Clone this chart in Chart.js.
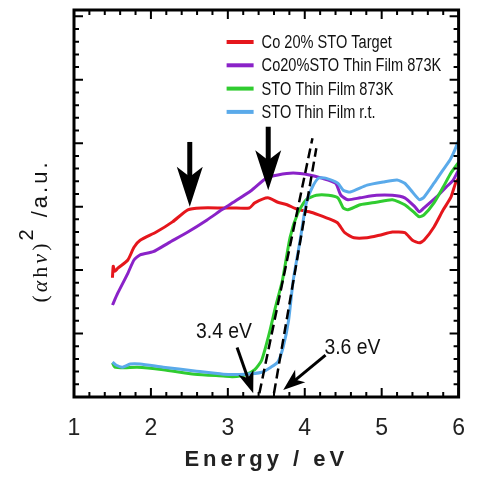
<!DOCTYPE html>
<html>
<head>
<meta charset="utf-8">
<script src="https://cdn.jsdelivr.net/npm/chart.js@4.4.1/dist/chart.umd.min.js"></script>
<style>
  html, body { margin: 0; padding: 0; background: #fff; }
</style>
</head>
<body>
<canvas id="gap-chart" width="483" height="479"></canvas>
<script>
// series (energy in eV, intensity in arbitrary units)
const seriesNames = ['Co 20% STO Target', 'Co20%STO Thin Film 873K', 'STO Thin Film 873K', 'STO Thin Film r.t.'];

const targetE = [1.5, 1.51, 1.53, 1.57, 1.70, 1.78, 1.86, 2.07, 2.28, 2.48, 2.65, 2.94, 3.06, 3.28, 3.35, 3.52, 3.65, 3.77, 3.90, 4.06, 4.18, 4.35, 4.43, 4.52, 4.64, 4.81, 4.97, 5.14, 5.30, 5.40, 5.49, 5.55, 5.68, 5.80, 5.90, 5.96, 6.0];
const targetY = [1.88, 2.06, 1.98, 2.03, 2.16, 2.36, 2.47, 2.60, 2.76, 2.95, 2.98, 2.98, 2.98, 2.98, 3.06, 3.14, 3.07, 3.03, 2.96, 2.92, 2.87, 2.79, 2.74, 2.59, 2.51, 2.51, 2.55, 2.60, 2.59, 2.47, 2.43, 2.47, 2.68, 2.95, 3.15, 3.37, 3.45];

const filmE = [1.5, 1.57, 1.70, 1.78, 1.86, 2.03, 2.23, 2.48, 2.73, 2.92, 3.06, 3.31, 3.50, 3.65, 3.85, 4.06, 4.22, 4.40, 4.47, 4.56, 4.72, 4.93, 5.14, 5.30, 5.43, 5.49, 5.55, 5.71, 5.84, 5.93, 6.0];
const filmY = [1.45, 1.64, 1.95, 2.16, 2.24, 2.29, 2.43, 2.60, 2.79, 2.95, 3.06, 3.26, 3.45, 3.50, 3.53, 3.50, 3.45, 3.37, 3.18, 3.11, 3.14, 3.18, 3.18, 3.14, 3.00, 2.92, 2.98, 3.15, 3.31, 3.42, 3.58];

const stoHotE = [1.5, 1.53, 1.66, 1.82, 2.16, 2.57, 2.94, 3.06, 3.23, 3.35, 3.44, 3.54, 3.62, 3.71, 3.81, 3.91, 4.02, 4.15, 4.31, 4.43, 4.50, 4.56, 4.72, 4.93, 5.14, 5.30, 5.43, 5.49, 5.55, 5.68, 5.80, 5.90, 6.0];
const stoHotY = [0.54, 0.47, 0.46, 0.47, 0.43, 0.36, 0.33, 0.32, 0.35, 0.43, 0.58, 1.01, 1.42, 1.84, 2.52, 2.90, 3.11, 3.18, 3.18, 3.14, 2.98, 2.95, 3.03, 3.07, 3.11, 3.03, 2.90, 2.84, 2.87, 3.06, 3.31, 3.53, 3.70];

const stoRtE = [1.5, 1.55, 1.63, 1.73, 1.86, 2.16, 2.57, 2.94, 3.23, 3.44, 3.56, 3.65, 3.72, 3.79, 3.85, 3.94, 4.02, 4.10, 4.18, 4.27, 4.43, 4.50, 4.59, 4.81, 5.02, 5.20, 5.30, 5.40, 5.49, 5.55, 5.68, 5.78, 5.89, 5.95, 6.0];
const stoRtY = [0.55, 0.50, 0.47, 0.52, 0.52, 0.47, 0.41, 0.36, 0.36, 0.39, 0.47, 0.55, 0.79, 1.21, 1.84, 2.47, 3.06, 3.31, 3.45, 3.45, 3.37, 3.26, 3.23, 3.34, 3.39, 3.42, 3.37, 3.23, 3.11, 3.15, 3.37, 3.55, 3.74, 3.89, 4.05];

// linear fits for the band gap
const fit34E = [3.41, 4.10];
const fit34Y = [0.06, 4.08];
const fit36E = [3.60, 4.15];
const fit36Y = [0.06, 3.92];

const xTickLabels = ['1', '2', '3', '4', '5', '6'];

// annotations: [x, yTop, yTip] for the peak arrows, [label, textX, textY, fromX, fromY, toX, toY] for gaps
const peakArrows = [[2.505, 4.02, 3.0], [3.525, 4.26, 3.26]];
const gapNotes = [
    ['3.4 eV', 2.95, 1.03, 3.12, 0.78, 3.33, 0.06],
    ['3.6 eV', 4.62, 0.77, 4.27, 0.66, 3.72, 0.11]
];

const seriesColors = ['#e5161c', '#8a22c8', '#30cc30', '#5aaaea'];

const toPoints = (xs, ys) => xs.map((x, i) => ({ x: x, y: ys[i] }));

Chart.defaults.font.family = "'Liberation Sans', Arial, sans-serif";

// condensed text like the original figure
function narrowText(ctx, text, x, y, squeeze) {
    ctx.save();
    ctx.translate(x, y);
    ctx.scale(squeeze, 1);
    ctx.fillText(text, 0, 0);
    ctx.restore();
}

const extras = {
    id: 'extras',
    beforeDraw(chart) {
        chart.ctx.letterSpacing = '4px';
    },
    beforeDatasetsDraw(chart) {
        chart.ctx.letterSpacing = '0px';
    },
    afterDatasetsDraw(chart) {
        const ctx = chart.ctx;
        const area = chart.chartArea;
        const xs = chart.scales.x;
        const ys = chart.scales.y;

        ctx.save();
        ctx.strokeStyle = '#000';
        ctx.fillStyle = '#000';

        // frame
        ctx.lineWidth = 3;
        ctx.strokeRect(area.left, area.top, area.right - area.left, area.bottom - area.top);

        // inward ticks, all four sides
        ctx.lineWidth = 2;
        ctx.beginPath();
        for (let i = 0; i <= 25; i++) {
            const px = xs.getPixelForValue(1 + i * 0.2);
            const len = i % 5 === 0 ? 9 : 5;
            ctx.moveTo(px, area.bottom);
            ctx.lineTo(px, area.bottom - len);
            ctx.moveTo(px, area.top);
            ctx.lineTo(px, area.top + len);
        }
        for (let i = 0; i <= 30; i++) {
            const py = ys.getPixelForValue(i * 0.2);
            const len = i % 5 === 0 ? 9 : 5;
            ctx.moveTo(area.left, py);
            ctx.lineTo(area.left + len, py);
            ctx.moveTo(area.right, py);
            ctx.lineTo(area.right - len, py);
        }
        ctx.stroke();

        // big arrows over the peaks
        peakArrows.forEach(a => {
            const px = xs.getPixelForValue(a[0]);
            const top = ys.getPixelForValue(a[1]);
            const tip = ys.getPixelForValue(a[2]);
            ctx.lineWidth = 5;
            ctx.beginPath();
            ctx.moveTo(px, top);
            ctx.lineTo(px, tip - 20);
            ctx.stroke();
            ctx.beginPath();
            ctx.moveTo(px, tip);
            ctx.lineTo(px - 13, tip - 40);
            ctx.lineTo(px, tip - 30);
            ctx.lineTo(px + 13, tip - 40);
            ctx.closePath();
            ctx.fill();
        });

        // band gap labels with arrows
        ctx.font = "22px 'Liberation Sans', sans-serif";
        ctx.textAlign = 'center';
        ctx.textBaseline = 'middle';
        gapNotes.forEach(n => {
            ctx.fillStyle = '#111';
            narrowText(ctx, n[0], xs.getPixelForValue(n[1]), ys.getPixelForValue(n[2]), 0.88);
            const x1 = xs.getPixelForValue(n[3]), y1 = ys.getPixelForValue(n[4]);
            const x2 = xs.getPixelForValue(n[5]), y2 = ys.getPixelForValue(n[6]);
            const ang = Math.atan2(y2 - y1, x2 - x1);
            ctx.lineWidth = 3;
            ctx.beginPath();
            ctx.moveTo(x1, y1);
            ctx.lineTo(x2 - 12 * Math.cos(ang), y2 - 12 * Math.sin(ang));
            ctx.stroke();
            ctx.fillStyle = '#000';
            ctx.beginPath();
            ctx.moveTo(x2, y2);
            ctx.lineTo(x2 - 22 * Math.cos(ang) + 8 * Math.sin(ang), y2 - 22 * Math.sin(ang) - 8 * Math.cos(ang));
            ctx.lineTo(x2 - 16 * Math.cos(ang), y2 - 16 * Math.sin(ang));
            ctx.lineTo(x2 - 22 * Math.cos(ang) - 8 * Math.sin(ang), y2 - 22 * Math.sin(ang) + 8 * Math.cos(ang));
            ctx.closePath();
            ctx.fill();
        });

        // legend
        const lx = area.right - 232;
        ctx.font = "18px 'Liberation Sans', sans-serif";
        ctx.textAlign = 'left';
        seriesNames.forEach((name, i) => {
            const ly = area.top + 32 + i * 23.3;
            ctx.strokeStyle = seriesColors[i];
            ctx.lineWidth = 4;
            ctx.beginPath();
            ctx.moveTo(lx, ly);
            ctx.lineTo(lx + 27, ly);
            ctx.stroke();
            ctx.fillStyle = '#111';
            narrowText(ctx, name, lx + 35, ly + 1, 0.81);
        });

        // y title (rotated, mixed fonts)
        ctx.translate(47, 231);
        ctx.rotate(-Math.PI / 2);
        ctx.textBaseline = 'alphabetic';
        ctx.fillStyle = '#111';
        const parts = [
            ['(', "22px 'Liberation Serif', serif", 0],
            ['\u03b1', "italic 22px 'Liberation Serif', serif", 0],
            ['h', "22px 'Liberation Serif', serif", 0],
            ['\u03bd', "italic 22px 'Liberation Serif', serif", 0],
            [')', "22px 'Liberation Serif', serif", 0],
            ['2', "20px 'Liberation Sans', sans-serif", -14],
            [' /a.u.', "22px 'Liberation Sans', sans-serif", 0]
        ];
        ctx.letterSpacing = '3px';
        let total = 0;
        parts.forEach(p => { ctx.font = p[1]; total += ctx.measureText(p[0]).width; });
        let cx = -total / 2;
        parts.forEach(p => {
            ctx.font = p[1];
            ctx.fillText(p[0], cx, p[2]);
            cx += ctx.measureText(p[0]).width;
        });
        ctx.restore();
    }
};

const lineSet = (label, xs, ys, color) => ({
    label: label,
    data: toPoints(xs, ys),
    borderColor: color,
    borderWidth: 3,
    pointRadius: 0,
    tension: 0.2,
    fill: false
});

const fitSet = (xs, ys) => ({
    label: 'fit',
    data: toPoints(xs, ys),
    borderColor: '#000',
    borderWidth: 2.5,
    borderDash: [10, 5],
    pointRadius: 0,
    fill: false
});

const ctx = document.getElementById('gap-chart').getContext('2d');

const gapChart = new Chart(ctx, {
    type: 'line',
    data: {
        datasets: [
            fitSet(fit34E, fit34Y),
            fitSet(fit36E, fit36Y),
            lineSet(seriesNames[3], stoRtE, stoRtY, seriesColors[3]),
            lineSet(seriesNames[2], stoHotE, stoHotY, seriesColors[2]),
            lineSet(seriesNames[1], filmE, filmY, seriesColors[1]),
            lineSet(seriesNames[0], targetE, targetY, seriesColors[0])
        ]
    },
    options: {
        responsive: false,
        animation: false,
        devicePixelRatio: 1,
        layout: { padding: { top: 10, right: 8, left: 0, bottom: 0 } },
        plugins: {
            legend: { display: false },
            tooltip: { enabled: false }
        },
        scales: {
            x: {
                type: 'linear',
                min: 1,
                max: 6,
                grid: { drawOnChartArea: false, drawTicks: false },
                border: { display: false },
                ticks: {
                    stepSize: 1,
                    padding: 18,
                    labelOffset: 2,
                    color: '#222',
                    font: { size: 23 },
                    callback: (v) => xTickLabels[v - 1]
                },
                title: {
                    display: true,
                    text: 'Energy / eV',
                    color: '#222',
                    font: { size: 22, weight: 'bold' },
                    padding: { top: 0, bottom: 6 }
                },
                afterFit: (scale) => { scale.height = 82; }
            },
            y: {
                min: 0,
                max: 6.1,
                grid: { drawOnChartArea: false, drawTicks: false },
                border: { display: false },
                ticks: { display: false },
                afterFit: (scale) => { scale.width = 74; }
            }
        }
    },
    plugins: [extras]
});
</script>
</body>
</html>
